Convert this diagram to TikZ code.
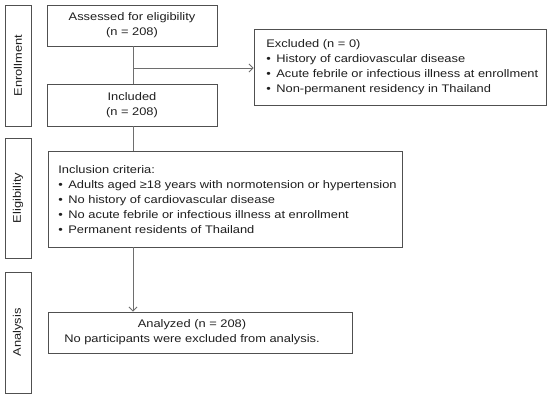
\documentclass[tikz,border=0pt]{standalone}
\usepackage{fontspec}
\setmainfont{Liberation Sans}[FakeStretch=1.17]
\usetikzlibrary{arrows.meta}
\definecolor{boxline}{HTML}{505050}
\definecolor{conn}{HTML}{6E6E6E}
\definecolor{txt}{HTML}{1E1E1E}
\newcommand{\bul}{\makebox[10pt][l]{\textbullet}}
\begin{document}
\begin{tikzpicture}[x=1pt,y=-1pt,
  box/.style={draw=boxline,line width=0.8pt,text=txt,inner sep=0pt,font=\fontsize{11}{15}\selectfont},
  cbox/.style={box,align=center},
  lbox/.style={box,align=left},
  side/.style={draw=boxline,line width=0.8pt,text=txt,minimum width=26pt,font=\fontsize{11}{13}\selectfont},
  stxt/.style={rotate=90,text=txt,font=\fontsize{11}{13}\selectfont},
  conn/.style={draw=conn,line width=0.9pt},
  arr/.style={conn,-{Straight Barb[length=4pt,width=8pt]}}]
\useasboundingbox (0,0) rectangle (550,398);
% side labels
\node[side,minimum height=121pt] (s1) at (18,65.5) {};
\node[stxt] (s1t) at (s1.center) {Enrollment};
\node[side,minimum height=120pt] (s2) at (18,198) {};
\node[stxt] (s2t) at (s2.center) {Eligibility};
\node[side,minimum height=121pt] (s3) at (18,332.5) {};
\node[stxt] (s3t) at (s3.center) {Analysis};
% main boxes
\node[cbox,minimum width=170pt,minimum height=41pt] (assess) at (132,25.5) {Assessed for eligibility\\(n = 208)};
\node[cbox,minimum width=170pt,minimum height=42pt] (incl) at (132,105) {Included\\(n = 208)};
\node[draw=boxline,line width=0.8pt,minimum width=292pt,minimum height=76pt] (excl) at (400,67) {};
\node[lbox,draw=none,anchor=west] (excltxt) at (266,67) {Excluded (n = 0)\\
\bul History of cardiovascular disease\\
\bul Acute febrile or infectious illness at enrollment\\
\bul Non-permanent residency in Thailand};
\node[draw=boxline,line width=0.8pt,minimum width=354pt,minimum height=96pt] (crit) at (225,199) {};
\node[lbox,draw=none,anchor=west] (crittxt) at (58,199.5) {Inclusion criteria:\\
\bul Adults aged ≥18 years with normotension or hypertension\\
\bul No history of cardiovascular disease\\
\bul No acute febrile or infectious illness at enrollment\\
\bul Permanent residents of Thailand};
\node[draw=boxline,line width=0.8pt,minimum width=304pt,minimum height=41pt] (anal) at (200,332.5) {};
\node[cbox,draw=none] (analtxt) at (192,332.5) {Analyzed (n = 208)\\No participants were excluded from analysis.};
% connectors
\draw[conn] (assess.south -| 133,0) -- (incl.north -| 133,0);
\coordinate (br) at (133,68);
\draw[arr] (br) -- (br -| excl.west);
\draw[conn] (incl.south -| 133,0) -- (crit.north -| 133,0);
\draw[arr] (crit.south -| 133,0) -- (anal.north -| 133,0);
\end{tikzpicture}
\end{document}
